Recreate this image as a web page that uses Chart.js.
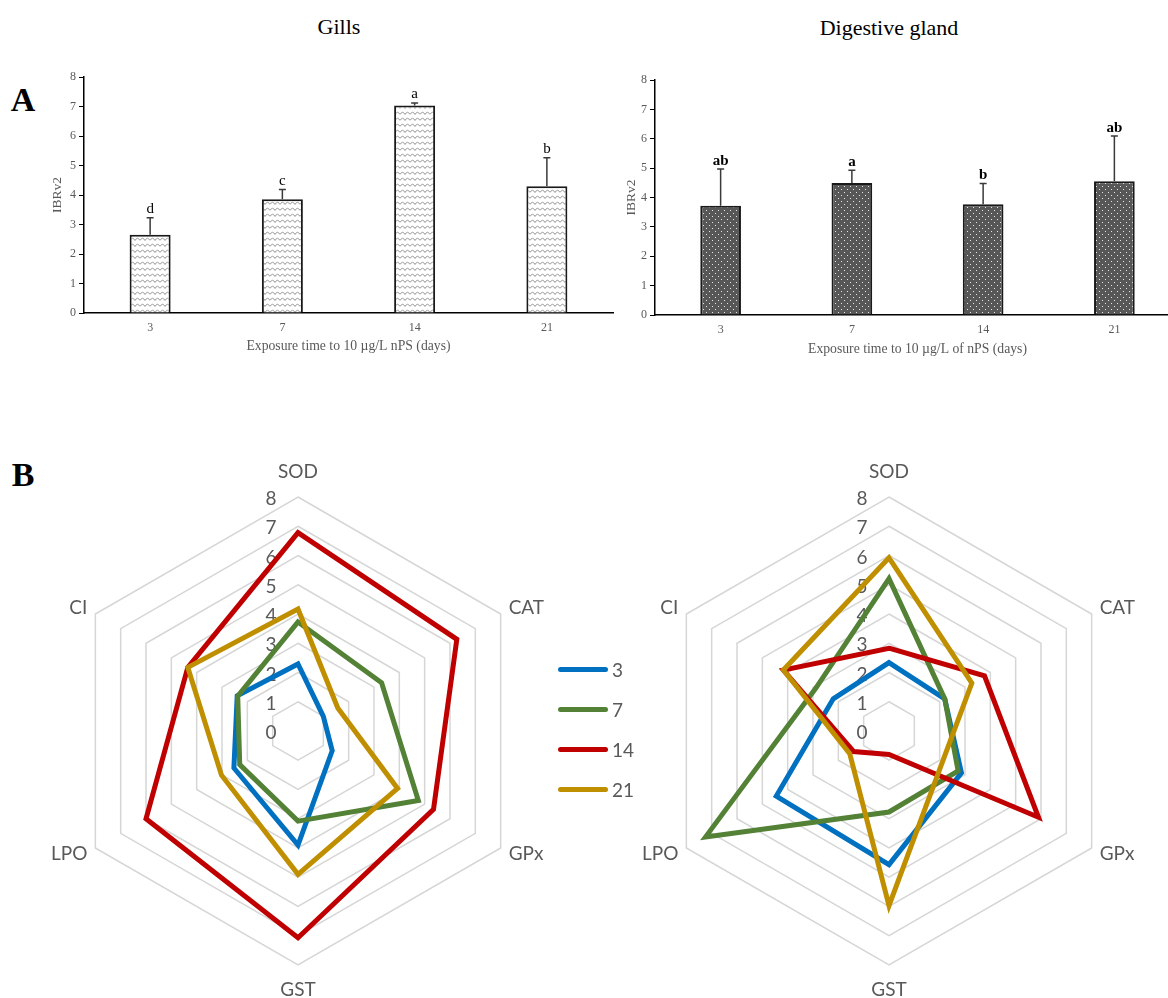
<!DOCTYPE html>
<html>
<head>
<meta charset="utf-8">
<script src="https://cdn.jsdelivr.net/npm/chart.js@4.4.1/dist/chart.umd.min.js"></script>
<style>
  html, body { margin: 0; padding: 0; width: 1168px; height: 998px; overflow: hidden; background: #fff; }
  canvas { position: absolute; }
  .title { position: absolute; font-family: "Liberation Serif", "Times New Roman", serif; font-size: 22px; color: #000;
           transform: translate(-50%, -50%); white-space: nowrap; }
  .panel { position: absolute; font-family: "Liberation Serif", "Times New Roman", serif; font-weight: bold; font-size: 34px;
           color: #000; transform: translate(-50%, -50%); }
  #legend { position: absolute; left: 558px; top: 649px; z-index: 5; font-family: Lato, "Open Sans", sans-serif;
            font-size: 19px; color: #595959; }
  .legrow { display: flex; align-items: center; height: 40px; }
  .legline { width: 50px; height: 5px; border-radius: 3px; margin-right: 4px; }
</style>
</head>
<body>
<div class="title" style="left:339px; top:27px;">Gills</div>
<div class="title" style="left:889px; top:28px;">Digestive gland</div>
<div class="panel" style="left:23px; top:100px;">A</div>
<div class="panel" style="left:23px; top:475px;">B</div>

<canvas id="barGills" width="625" height="330" style="left:0px; top:50px;"></canvas>
<canvas id="barDG" width="590" height="330" style="left:600px; top:50px;"></canvas>
<canvas id="radarGills" width="597" height="540" style="left:0px; top:460px;"></canvas>
<canvas id="radarDG" width="558" height="540" style="left:610px; top:460px;"></canvas>
<div id="legend"></div>

<script>
// Exposure days (bar categories and radar series)
const days = ['3', '7', '14', '21'];

// IBRv2 index, mean and standard deviation per exposure day
const gillIBR = [2.65, 3.86, 7.03, 4.30];
const gillSD = [0.58, 0.33, 0.09, 0.96];
const gillLetters = ['d', 'c', 'a', 'b'];

const dgIBR = [3.72, 4.49, 3.77, 4.55];
const dgSD = [1.25, 0.44, 0.71, 1.54];
const dgLetters = ['ab', 'a', 'b', 'ab'];

const yTicks = [0, 1, 2, 3, 4, 5, 6, 7, 8];

// Biomarker star plots (standardised scores)
const biomarkers = ['SOD', 'CAT', 'GPx', 'GST', 'LPO', 'CI'];

const gills3 = [2.29, 1.00, 1.35, 3.90, 2.53, 2.40];
const gills7 = [3.73, 3.30, 4.75, 3.08, 2.30, 2.38];
const gills14 = [6.78, 6.27, 5.35, 7.07, 6.00, 4.35];
const gills21 = [4.17, 1.57, 3.93, 4.90, 3.02, 4.35];

const dg3 = [2.34, 2.20, 2.86, 4.57, 4.45, 2.20];
const dg7 = [5.21, 2.20, 2.73, 2.77, 7.24, 2.90];
const dg14 = [2.83, 3.77, 5.90, 0.80, 1.40, 4.17];
const dg21 = [5.92, 3.27, 2.11, 5.97, 1.55, 4.17];

const seriesColors = ['#0070C0', '#538135', '#C00000', '#BF8F00'];

Chart.defaults.font.family = '"Liberation Serif", "Times New Roman", serif';
Chart.defaults.color = '#595959';

// ---- fill patterns for the bars ----
function zigzagPattern() {
  const c = document.createElement('canvas');
  c.width = 10; c.height = 6;
  const g = c.getContext('2d');
  g.fillStyle = '#ffffff';
  g.fillRect(0, 0, 10, 6);
  g.strokeStyle = '#9a9a9a';
  g.lineWidth = 1;
  g.beginPath();
  g.moveTo(0, 4.5);
  g.quadraticCurveTo(2.5, 0, 5, 4.5);
  g.quadraticCurveTo(7.5, 0, 10, 4.5);
  g.stroke();
  return g.createPattern(c, 'repeat');
}
function dotPattern() {
  const c = document.createElement('canvas');
  c.width = 6; c.height = 6;
  const g = c.getContext('2d');
  g.fillStyle = '#575757';
  g.fillRect(0, 0, 6, 6);
  g.fillStyle = '#e6e6e6';
  g.fillRect(1, 1, 1, 1);
  g.fillRect(4, 4, 1, 1);
  return g.createPattern(c, 'repeat');
}

// ---- error bars and significance letters ----
function errorBars(sd, letters, bold) {
  return {
    id: 'errorBars',
    afterDatasetsDraw(chart) {
      const ctx = chart.ctx;
      const yScale = chart.scales.y;
      const values = chart.data.datasets[0].data;
      const meta = chart.getDatasetMeta(0);
      ctx.save();
      meta.data.forEach((bar, i) => {
        const yTop = yScale.getPixelForValue(values[i] + sd[i]);
        ctx.strokeStyle = '#3a3a3a';
        ctx.lineWidth = 1.5;
        ctx.beginPath();
        ctx.moveTo(bar.x, bar.y);
        ctx.lineTo(bar.x, yTop);
        ctx.moveTo(bar.x - 3.5, yTop);
        ctx.lineTo(bar.x + 3.5, yTop);
        ctx.stroke();
        ctx.fillStyle = '#000';
        ctx.font = (bold ? 'bold ' : '') + '15px "Liberation Serif", serif';
        ctx.textAlign = 'center';
        ctx.textBaseline = 'alphabetic';
        ctx.fillText(letters[i], bar.x, yTop - 4.5);
      });
      ctx.restore();
    }
  };
}

function barChart(id, values, sd, letters, bold, fill, xTitle, dims) {
  return new Chart(document.getElementById(id), {
    type: 'bar',
    data: {
      labels: days,
      datasets: [{
        data: values,
        backgroundColor: fill,
        borderColor: '#1a1a1a',
        borderWidth: 2,
        categoryPercentage: 1,
        barPercentage: 0.31
      }]
    },
    options: {
      responsive: false,
      animation: false,
      devicePixelRatio: 1,
      layout: { padding: { top: dims.top, right: dims.right, bottom: 0, left: 0 } },
      plugins: { legend: { display: false }, tooltip: { enabled: false } },
      scales: {
        x: {
          grid: { display: false, drawTicks: false },
          border: { display: true, color: '#000', width: 1.5 },
          ticks: { font: { size: 12 }, color: '#595959', padding: dims.xPad },
          title: { display: true, text: xTitle, font: { size: 13.7 }, color: '#595959',
                   padding: { top: 0, bottom: dims.xTitlePad } },
          afterFit: s => { s.height = dims.xHeight; }
        },
        y: {
          min: 0, max: 8,
          afterBuildTicks: s => { s.ticks = yTicks.map(v => ({ value: v })); },
          grid: { drawOnChartArea: false, drawTicks: true, tickLength: 5, color: '#000', lineWidth: 1 },
          border: { display: true, color: '#000', width: 1.5 },
          ticks: { font: { size: 12 }, color: '#595959', padding: 3 },
          title: { display: true, text: 'IBRv2', font: { size: 13.5 }, color: '#595959',
                   padding: { top: dims.yTitlePad, bottom: 0 } },
          afterFit: s => { s.width = dims.yWidth; }
        }
      }
    },
    plugins: [errorBars(sd, letters, bold)]
  });
}

barChart('barGills', gillIBR, gillSD, gillLetters, false, zigzagPattern(),
  'Exposure time to 10 µg/L nPS (days)',
  { top: 27, right: 12, xHeight: 67, yWidth: 84, xPad: 7.5, xTitlePad: 25, yTitlePad: 49 });

barChart('barDG', dgIBR, dgSD, dgLetters, true, dotPattern(),
  'Exposure time to 10 µg/L of nPS (days)',
  { top: 30, right: 10, xHeight: 65, yWidth: 55, xPad: 8, xTitlePad: 22, yTitlePad: 23 });

// ---- radar text: ring values and biomarker names ----
const radarText = {
  id: 'radarText',
  beforeDatasetsDraw(chart) {
    const s = chart.scales.r, ctx = chart.ctx;
    ctx.save();
    ctx.font = '19px Lato, "Open Sans", sans-serif';
    ctx.fillStyle = '#595959';
    ctx.textAlign = 'center';
    ctx.textBaseline = 'middle';
    s.ticks.forEach(t => {
      const d = s.getDistanceFromCenterForValue(t.value);
      ctx.fillText(String(t.value), s.xCenter - 27, s.yCenter - d + 2);
    });
    ctx.restore();
  },
  afterDraw(chart) {
    const s = chart.scales.r, ctx = chart.ctx;
    const R = s.drawingArea;
    ctx.save();
    ctx.font = '19px Lato, "Open Sans", sans-serif';
    ctx.fillStyle = '#595959';
    ctx.textBaseline = 'middle';
    chart.data.labels.forEach((lab, i) => {
      const p = s.getPointPosition(i, R);
      let x = p.x, y = p.y;
      if (Math.abs(p.x - s.xCenter) < 1) {
        ctx.textAlign = 'center';
        y += (p.y < s.yCenter ? -25 : 25);
      } else {
        ctx.textAlign = p.x > s.xCenter ? 'left' : 'right';
        x += p.x > s.xCenter ? 8 : -8;
        y += p.y < s.yCenter ? -6 : 6;
      }
      ctx.fillText(lab, x, y);
    });
    ctx.restore();
  }
};

function radarChart(id, series) {
  return new Chart(document.getElementById(id), {
    type: 'radar',
    data: {
      labels: biomarkers,
      datasets: series.map((d, i) => ({
        label: days[i],
        data: d,
        borderColor: seriesColors[i],
        backgroundColor: 'transparent',
        fill: false,
        order: series.length - i
      }))
    },
    options: {
      responsive: false,
      animation: false,
      devicePixelRatio: 1,
      layout: { padding: { top: 37, bottom: 35, left: 0, right: 0 } },
      plugins: { legend: { display: false }, tooltip: { enabled: false } },
      elements: {
        line: { borderWidth: 5, tension: 0, borderJoinStyle: 'miter' },
        point: { radius: 0, hoverRadius: 0 }
      },
      scales: {
        r: {
          min: 0, max: 8,
          ticks: { stepSize: 1, display: false },
          grid: { color: '#d6d6d6', lineWidth: 1.5 },
          angleLines: { display: false },
          pointLabels: { display: false }
        }
      }
    },
    plugins: [radarText]
  });
}

radarChart('radarGills', [gills3, gills7, gills14, gills21]);
radarChart('radarDG', [dg3, dg7, dg14, dg21]);

// ---- legend for the exposure days ----
const legend = document.getElementById('legend');
days.forEach((d, i) => {
  const row = document.createElement('div');
  row.className = 'legrow';
  const line = document.createElement('div');
  line.className = 'legline';
  line.style.background = seriesColors[i];
  const txt = document.createElement('span');
  txt.textContent = d;
  row.appendChild(line);
  row.appendChild(txt);
  legend.appendChild(row);
});
</script>
</body>
</html>
